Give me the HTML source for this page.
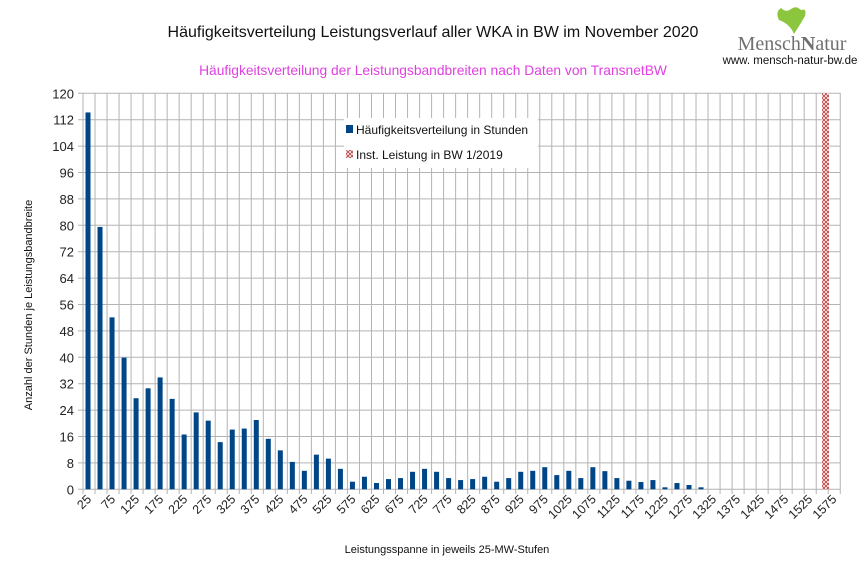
<!DOCTYPE html>
<html><head><meta charset="utf-8"><style>
html,body{margin:0;padding:0;background:#fff;}
svg{display:block;font-family:"Liberation Sans",sans-serif;}
</style></head><body>
<svg width="866" height="578" viewBox="0 0 866 578" xmlns="http://www.w3.org/2000/svg">
<defs>
<pattern id="hx" width="4" height="4" patternUnits="userSpaceOnUse">
<rect width="4" height="4" fill="#fff"/>
<path d="M0 0L4 4M4 0L0 4" stroke="#c0504d" stroke-width="1"/>
</pattern>
</defs>
<text x="433" y="37" font-size="16" text-anchor="middle" fill="#111">Häufigkeitsverteilung Leistungsverlauf aller WKA in BW im November 2020</text>
<text x="433" y="75" font-size="13.8" text-anchor="middle" fill="#e040e0">Häufigkeitsverteilung der Leistungsbandbreiten nach Daten von TransnetBW</text>
<!-- logo -->
<path d="M794 34 Q790 24 779 20 Q775 12 781 8 Q786 13 791 9 Q796 5 801 10 Q807 8 805 16 Q801 23 794 34 Z" fill="#8cc63f"/>
<text x="792" y="50" font-size="20" text-anchor="middle" fill="#707070" font-family="Liberation Serif,serif">Mensch<tspan font-weight="bold">N</tspan>atur</text>
<text x="790" y="64" font-size="11.5" text-anchor="middle" fill="#111">www. mensch-natur-bw.de</text>
<g id="grid" stroke="#b3b3b3" stroke-width="1"></g>
<g id="bars"></g>
<g id="labels" font-size="12.5" fill="#222"></g>
<rect x="344" y="118" width="194" height="50" fill="#fff"/>
<rect x="346" y="125" width="7" height="8" fill="#004586"/>
<text x="356" y="134" font-size="12" fill="#111">Häufigkeitsverteilung in Stunden</text>
<rect x="346" y="150" width="7" height="8" fill="url(#hx)"/>
<text x="356" y="159" font-size="12" fill="#111">Inst. Leistung in BW 1/2019</text>
<text transform="translate(32,305) rotate(-90)" font-size="11" text-anchor="middle" fill="#111">Anzahl der Stunden je Leistungsbandbreite</text>
<text x="447" y="553" font-size="11" text-anchor="middle" fill="#111">Leistungsspanne in jeweils 25-MW-Stufen</text>
</svg>
<script>
const ns="http://www.w3.org/2000/svg";
const g=document.getElementById('grid'),b=document.getElementById('bars'),l=document.getElementById('labels');
function el(p,t,a){const e=document.createElementNS(ns,t);for(const k in a)e.setAttribute(k,a[k]);p.appendChild(e);return e;}
const X0=83,W=12.02,Y0=489.3,S=3.3;
for(let v=0;v<=120;v+=8){const y=Y0-v*S;el(g,'line',{x1:78,x2:840.5,y1:y,y2:y});
 const t=el(l,'text',{x:74,y:y+5,'text-anchor':'end','font-size':'13'});t.textContent=v;}
for(let i=0;i<=63;i++){const x=X0+i*W;el(g,'line',{x1:x,x2:x,y1:93,y2:494});}
const vals=[114.2,79.5,52.1,39.9,27.6,30.6,33.9,27.4,16.6,23.3,20.8,14.3,18.1,18.4,21,15.3,11.8,8.3,5.6,10.5,9.3,6.2,2.3,3.8,1.9,3.1,3.4,5.3,6.2,5.3,3.4,2.8,3.1,3.8,2.3,3.4,5.3,5.6,6.7,4.3,5.6,3.4,6.7,5.5,3.4,2.6,2.2,2.8,0.6,1.9,1.3,0.6];
vals.forEach((v,i)=>{const h=v*S;el(b,'rect',{x:X0+i*W+2.5,y:Y0-h,width:5,height:h,fill:'#004586'});});
el(b,'rect',{x:822,y:93.3,width:7,height:396,fill:'url(#hx)'});
for(let i=0;i<63;i+=2){const x=X0+i*W+9,y=500;const t=el(l,'text',{x:x,y:y,'text-anchor':'end',transform:`rotate(-45 ${x} ${y})`});t.textContent=25*(i+1);}
</script>
</body></html>
